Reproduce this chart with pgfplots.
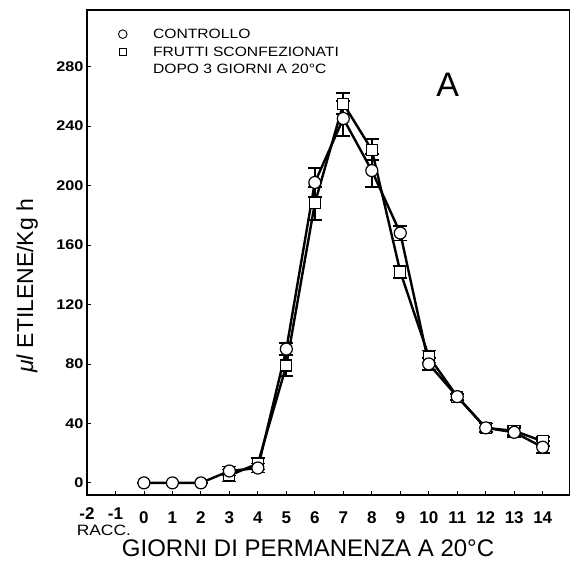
\documentclass[border=0pt]{standalone}
\usepackage{fontspec}
\setmainfont{Liberation Sans}
\newfontfamily\widefont[FakeStretch=1.16]{Liberation Sans}
\usepackage{pgfplots}
\pgfplotsset{compat=1.18}
\begin{document}
\begin{tikzpicture}
\begin{axis}[
  name=ax,
  scale only axis,
  width=483pt, height=485pt,
  xmin=-2, xmax=14.95,
  ymin=-8, ymax=318,
  xtick={0,...,14},
  extra x ticks={-2,-1},
  extra x tick style={tick label style={font=\fontsize{15}{17}\selectfont\bfseries, yshift=4pt}},
  ytick={0,40,...,280},
  tick align=inside,
  major tick length=4pt,
  tick style={black, line width=0.8pt},
  xtick pos=bottom, ytick pos=left,
  axis line style={draw=none},
  /pgf/number format/assume math mode=true,
  xticklabel style={font=\fontsize{17}{19}\selectfont\bfseries, yshift=-13pt},
  yticklabel style={font=\widefont\fontsize{14}{16}\selectfont\bfseries},
  xlabel={GIORNI DI PERMANENZA A 20°C},
  xlabel style={font=\fontsize{24}{26}\selectfont, at={(rel axis cs:0.458,-0.111)}, anchor=center},
  ylabel={\textit{μl} ETILENE/Kg h},
  ylabel style={font=\fontsize{23}{25}\selectfont, at={(rel axis cs:-0.124,0.431)}, anchor=center},
  clip=false,
  legend style={draw=none, fill=none, at={(rel axis cs:0.054,0.968)}, anchor=north west,
    font=\widefont\fontsize{13.5}{16}\selectfont, row sep=3pt, inner sep=1pt,
    /tikz/every odd column/.append style={column sep=24pt}},
  legend cell align=left,
  error bars/y dir=both, error bars/y explicit,
  error bars/error bar style={line width=1.8pt},
  error bars/error mark options={rotate=90, mark size=7pt, line width=1.8pt},
]
\addlegendimage{only marks, mark=*, mark options={fill=white, draw=black, line width=0.9pt}, mark size=4.3pt}
\addlegendentry{CONTROLLO}
\addlegendimage{only marks, mark=square*, mark options={fill=white, draw=black, line width=0.9pt}, mark size=3.8pt}
\addlegendentry{FRUTTI SCONFEZIONATI}
\addlegendimage{empty legend}
\addlegendentry{DOPO 3 GIORNI A 20°C}

% frutti sconfezionati (squares)
\addplot[forget plot, black, line width=2.4pt, mark=square*, mark size=5.5pt,
  mark options={fill=white, draw=black, line width=1.2pt, solid}]
  table[x=x, y=y, y error=e] {
x y e
3 5 4
4 13 4
5 79 7
6 188 11
7 255 7
8 224 7
9 142 4
10 85 4
11 58 2
12 37 3
13 35 3
14 28 3
};
% controllo (circles)
\addplot[forget plot, black, line width=2.4pt, mark=*, mark size=6pt,
  mark options={fill=white, draw=black, line width=1.2pt, solid}]
  table[x=x, y=y, y error=e] {
x y e
0 0 0
1 0 0
2 0 0
3 8 3
4 10 3
5 90 4
6 202 10
7 245 12
8 210 11
9 168 5
10 80 4
11 58 2
12 37 3
13 34 3
14 24 4
};
\draw[line width=2.5pt] (rel axis cs:1,1) -- (rel axis cs:0,1) -- (rel axis cs:0,0) -- (rel axis cs:1,0);
\draw[line width=0.8pt] (rel axis cs:1,0) -- (rel axis cs:1,1);
\node[font=\widefont\fontsize{15}{17}\selectfont] at (rel axis cs:0.035,-0.074) {RACC.};
\node[font=\fontsize{34}{36}\selectfont] at (rel axis cs:0.747,0.845) {A};
\end{axis}
\path (ax.south west) ++(-87pt,-74pt);
\path (ax.north east) ++(1pt,10pt);
\end{tikzpicture}
\end{document}
